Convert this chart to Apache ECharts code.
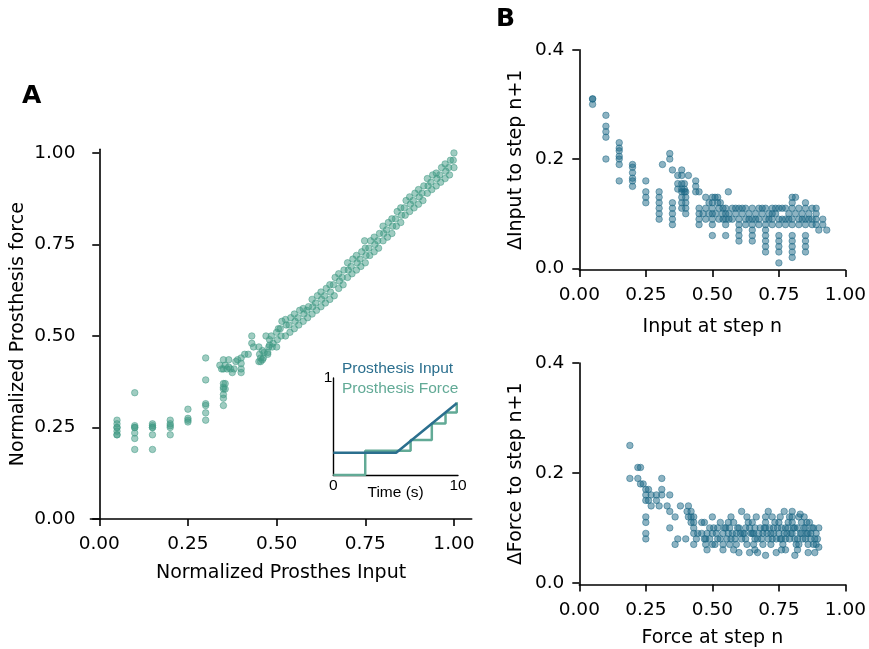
<!DOCTYPE html>
<html><head><meta charset="utf-8">
<script src="https://cdn.jsdelivr.net/npm/echarts@6/dist/echarts.min.js"></script>
<style>html,body{margin:0;padding:0;background:#fff}#c{width:869px;height:649px}</style>
</head><body><div id="c"></div>
<script>
// ---------- Panel A: normalized input vs force ----------
const inputForceA = [
[0.05,0.27],[0.05,0.26],[0.05,0.25],[0.05,0.25],[0.05,0.24],[0.05,0.23],[0.05,0.23],
[0.10,0.345],[0.10,0.255],[0.10,0.25],[0.10,0.25],[0.10,0.235],[0.10,0.22],[0.10,0.19],
[0.15,0.26],[0.15,0.255],[0.15,0.25],[0.15,0.25],[0.15,0.23],[0.15,0.19],
[0.20,0.27],[0.20,0.26],[0.20,0.255],[0.20,0.25],[0.20,0.23],
[0.25,0.30],[0.25,0.275],[0.25,0.27],[0.25,0.265],
[0.30,0.44],[0.30,0.38],[0.30,0.315],[0.30,0.31],[0.30,0.29],[0.30,0.27],
[0.35,0.37],[0.35,0.36],[0.35,0.355],[0.35,0.34],[0.35,0.33],[0.35,0.31],[0.355,0.37],[0.355,0.355],
[0.34,0.42],[0.345,0.41],[0.35,0.41],[0.355,0.42],[0.36,0.41],[0.365,0.415],[0.37,0.41],[0.375,0.40],[0.38,0.41],[0.35,0.435],[0.365,0.435],[0.385,0.43],[0.39,0.435],
[0.40,0.44],[0.40,0.425],[0.40,0.41],[0.40,0.40],[0.41,0.45],[0.42,0.45],
[0.43,0.50],[0.43,0.48],[0.435,0.47],[0.45,0.47],[0.455,0.44],[0.455,0.43],[0.46,0.435],[0.47,0.50],[0.475,0.455],[0.48,0.475],
[0.45,0.43],[0.452,0.45],[0.46,0.46],[0.4625,0.44],[0.465,0.455],
[0.475,0.45],[0.478,0.47],[0.48,0.49],[0.4875,0.47],[0.49,0.48],[0.485,0.50],
[0.50,0.47],[0.502,0.49],[0.50,0.51],[0.505,0.52],[0.5125,0.50],[0.51,0.52],[0.515,0.54],
[0.525,0.50],[0.527,0.53],[0.525,0.545],[0.5375,0.51],[0.535,0.53],[0.54,0.55],
[0.55,0.52],[0.552,0.54],[0.55,0.56],[0.5625,0.53],[0.56,0.55],[0.565,0.57],
[0.575,0.54],[0.577,0.56],[0.575,0.575],[0.5875,0.55],[0.585,0.57],[0.59,0.58],
[0.60,0.56],[0.602,0.58],[0.60,0.60],[0.6125,0.57],[0.61,0.59],[0.615,0.61],
[0.625,0.58],[0.627,0.60],[0.625,0.62],[0.6375,0.59],[0.635,0.61],[0.64,0.63],
[0.65,0.60],[0.652,0.62],[0.65,0.64],[0.6625,0.61],[0.66,0.64],[0.665,0.66],
[0.675,0.63],[0.677,0.65],[0.675,0.67],[0.6875,0.64],[0.685,0.66],[0.69,0.68],
[0.70,0.66],[0.702,0.68],[0.70,0.70],[0.7125,0.67],[0.71,0.69],[0.715,0.71],
[0.725,0.68],[0.727,0.70],[0.725,0.72],[0.7375,0.69],[0.735,0.71],[0.74,0.73],
[0.75,0.70],[0.752,0.72],[0.75,0.74],[0.748,0.76],[0.7625,0.72],[0.76,0.74],[0.765,0.76],
[0.775,0.73],[0.777,0.75],[0.775,0.77],[0.7875,0.74],[0.785,0.76],[0.79,0.78],
[0.80,0.76],[0.802,0.78],[0.80,0.80],[0.8125,0.77],[0.81,0.79],[0.815,0.81],
[0.825,0.78],[0.827,0.80],[0.825,0.82],[0.8375,0.80],[0.835,0.82],[0.84,0.84],
[0.85,0.81],[0.852,0.83],[0.85,0.85],[0.8625,0.83],[0.86,0.85],[0.865,0.87],
[0.875,0.84],[0.877,0.86],[0.875,0.88],[0.8875,0.85],[0.885,0.87],[0.89,0.89],
[0.90,0.86],[0.902,0.88],[0.90,0.90],[0.9125,0.87],[0.91,0.89],[0.915,0.91],
[0.925,0.89],[0.927,0.91],[0.925,0.93],[0.9375,0.90],[0.935,0.92],[0.94,0.94],
[0.95,0.91],[0.952,0.93],[0.95,0.945],[0.9625,0.92],[0.96,0.94],[0.965,0.96],
[0.975,0.93],[0.977,0.95],[0.975,0.97],[0.9875,0.94],[0.985,0.96],[0.99,0.98],
[1.0,0.96],[0.998,0.98],[1.0,1.0]
];

// ---------- Panel B (top): input at step n vs change ----------
const stepInput = [
[0.05,0.31],[0.05,0.31],[0.05,0.30],
[0.10,0.28],[0.10,0.26],[0.10,0.25],[0.10,0.24],[0.10,0.20],
[0.15,0.23],[0.15,0.22],[0.15,0.215],[0.15,0.205],[0.15,0.20],[0.15,0.19],[0.15,0.16],
[0.20,0.19],[0.20,0.185],[0.20,0.175],[0.20,0.165],[0.20,0.16],[0.20,0.15],
[0.25,0.16],[0.25,0.14],[0.25,0.13],[0.25,0.12],
[0.30,0.14],[0.30,0.13],[0.30,0.12],[0.30,0.11],[0.30,0.10],[0.30,0.09],
[0.3125,0.19],[0.34,0.21],[0.34,0.20],
[0.35,0.18],[0.35,0.12],[0.35,0.11],[0.35,0.10],[0.35,0.09],[0.35,0.08],
[0.37,0.17],[0.37,0.155],[0.37,0.145],
[0.385,0.18],[0.385,0.17],[0.385,0.155],[0.385,0.145],[0.385,0.14],[0.385,0.13],[0.385,0.12],[0.385,0.11],
[0.395,0.155],[0.395,0.145],[0.395,0.14],
[0.40,0.14],[0.40,0.13],[0.40,0.12],[0.40,0.11],[0.40,0.10],
[0.41,0.17],
[0.4375,0.16],[0.4375,0.15],[0.4375,0.14],
[0.45,0.14],[0.45,0.11],[0.45,0.10],[0.45,0.09],[0.45,0.08],
[0.465,0.10],[0.475,0.11],[0.475,0.09],[0.4875,0.10],[0.475,0.13],[0.4875,0.12],
[0.50,0.13],[0.50,0.12],[0.50,0.11],[0.50,0.10],[0.50,0.09],[0.50,0.08],[0.50,0.06],
[0.51,0.13],[0.52,0.13],[0.52,0.12],[0.525,0.11],[0.525,0.09],[0.53,0.12],[0.54,0.11],[0.54,0.09],[0.5125,0.10],[0.5375,0.10],
[0.55,0.11],[0.55,0.10],[0.55,0.09],[0.55,0.08],[0.55,0.06],[0.56,0.14],
[0.5625,0.10],[0.575,0.11],[0.575,0.09],[0.5875,0.10],[0.5875,0.11],[0.5625,0.09],
[0.60,0.11],[0.60,0.09],[0.60,0.08],[0.60,0.07],[0.60,0.06],[0.60,0.05],
[0.6125,0.10],[0.625,0.11],[0.625,0.09],[0.625,0.08],[0.6375,0.10],[0.6125,0.11],[0.6375,0.09],
[0.65,0.11],[0.65,0.09],[0.65,0.08],[0.65,0.07],[0.65,0.06],[0.65,0.05],
[0.6625,0.10],[0.675,0.11],[0.675,0.09],[0.675,0.08],[0.6875,0.10],[0.6625,0.09],[0.6875,0.11],
[0.70,0.11],[0.70,0.09],[0.70,0.08],[0.70,0.07],[0.70,0.06],[0.70,0.05],[0.70,0.04],[0.70,0.03],
[0.7125,0.10],[0.725,0.11],[0.725,0.10],[0.725,0.09],[0.725,0.08],[0.7375,0.10],[0.7125,0.09],[0.7375,0.11],
[0.75,0.11],[0.75,0.09],[0.75,0.08],[0.75,0.06],[0.75,0.05],[0.75,0.04],[0.75,0.03],[0.75,0.01],
[0.7625,0.09],[0.775,0.11],[0.775,0.09],[0.775,0.08],[0.7875,0.10],[0.7625,0.11],[0.7875,0.09],
[0.80,0.13],[0.80,0.12],[0.80,0.11],[0.80,0.09],[0.80,0.08],[0.80,0.06],[0.80,0.05],[0.80,0.04],[0.80,0.03],[0.80,0.02],
[0.8125,0.13],[0.825,0.11],[0.825,0.09],[0.825,0.08],[0.8375,0.10],[0.8125,0.10],[0.8375,0.09],
[0.85,0.12],[0.85,0.11],[0.85,0.09],[0.85,0.08],[0.85,0.06],[0.85,0.05],[0.85,0.04],[0.85,0.03],
[0.8625,0.10],[0.875,0.11],[0.875,0.09],[0.875,0.08],[0.8625,0.09],
[0.89,0.11],[0.89,0.10],[0.89,0.09],[0.89,0.08],
[0.90,0.07],[0.915,0.09],[0.915,0.08],[0.93,0.07]
];

// ---------- Panel B (bottom): force at step n vs change ----------
const stepForce = [
[0.19,0.25],[0.22,0.21],[0.23,0.21],[0.19,0.19],[0.22,0.19],
[0.23,0.18],[0.24,0.18],[0.25,0.17],[0.26,0.17],[0.25,0.16],[0.27,0.16],[0.25,0.15],[0.26,0.15],[0.27,0.14],
[0.31,0.19],[0.31,0.17],[0.29,0.16],[0.31,0.16],[0.29,0.15],[0.30,0.14],[0.33,0.14],[0.34,0.16],[0.34,0.13],[0.36,0.12],[0.34,0.10],
[0.25,0.12],[0.25,0.11],[0.25,0.09],[0.25,0.08],
[0.36,0.07],[0.37,0.08],[0.38,0.14],[0.40,0.08],
[0.405,0.13],[0.41,0.14],[0.42,0.12],[0.43,0.12],[0.42,0.13],[0.41,0.12],[0.42,0.11],[0.43,0.11],
[0.43,0.10],[0.43,0.09],[0.43,0.07],[0.445,0.09],[0.44,0.08],
[0.47,0.11],[0.475,0.08],[0.475,0.07],[0.46,0.09],[0.49,0.10],
[0.50,0.12],[0.50,0.09],[0.51,0.07],[0.52,0.10],[0.52,0.08],[0.53,0.11],
[0.54,0.09],[0.54,0.07],[0.54,0.06],[0.55,0.10],[0.555,0.08],
[0.565,0.10],[0.565,0.07],[0.57,0.12],[0.575,0.09],[0.58,0.11],[0.59,0.09],[0.59,0.07],[0.585,0.08],
[0.61,0.13],[0.60,0.055],[0.60,0.10],[0.61,0.08],[0.615,0.09],[0.625,0.10],[0.625,0.08],[0.63,0.07],[0.635,0.11],
[0.64,0.055],[0.645,0.09],[0.65,0.11],[0.65,0.09],[0.655,0.07],[0.66,0.10],[0.66,0.08],[0.665,0.12],[0.67,0.055],[0.675,0.09],[0.68,0.10],[0.685,0.08],
[0.69,0.07],[0.70,0.05],[0.70,0.10],[0.70,0.11],[0.705,0.09],[0.71,0.08],[0.715,0.10],[0.72,0.07],
[0.725,0.12],[0.725,0.08],[0.73,0.09],[0.735,0.11],[0.74,0.055],[0.745,0.10],[0.75,0.11],[0.75,0.09],[0.755,0.08],[0.76,0.10],[0.765,0.07],
[0.77,0.13],[0.775,0.10],[0.775,0.08],[0.775,0.06],[0.78,0.09],[0.785,0.11],[0.79,0.12],[0.79,0.08],
[0.80,0.13],[0.80,0.11],[0.80,0.09],[0.805,0.10],[0.81,0.05],[0.81,0.08],[0.815,0.07],[0.82,0.10],
[0.825,0.12],[0.825,0.07],[0.83,0.125],[0.83,0.09],[0.835,0.11],[0.84,0.08],[0.845,0.10],
[0.85,0.10],[0.85,0.08],[0.855,0.09],[0.86,0.07],[0.86,0.055],[0.865,0.11],[0.87,0.09],[0.875,0.10],
[0.88,0.10],[0.885,0.08],[0.885,0.055],[0.89,0.09],[0.89,0.07],[0.90,0.10],[0.90,0.065],
[0.46,0.11],[0.48,0.09],[0.49,0.08],[0.505,0.10],[0.515,0.09],[0.53,0.08],[0.545,0.10],[0.56,0.09],[0.57,0.08],
[0.595,0.10],[0.605,0.09],[0.62,0.09],[0.64,0.10],[0.655,0.09],[0.67,0.08],[0.69,0.09],[0.695,0.10],[0.72,0.09],
[0.73,0.10],[0.74,0.08],[0.76,0.08],[0.77,0.09],[0.785,0.10],[0.795,0.09],[0.81,0.10],[0.82,0.08],[0.835,0.09],
[0.845,0.12],[0.855,0.11],[0.86,0.09],[0.87,0.08],[0.88,0.07],[0.895,0.08],[0.47,0.08],[0.50,0.07],[0.56,0.11],
[0.63,0.12],[0.70,0.12],[0.71,0.13],[0.755,0.12],[0.80,0.12],[0.76,0.06],[0.82,0.06],[0.66,0.06],[0.58,0.06],[0.48,0.06]
];

// ---------- Inset: time traces ----------
const insetInput = [[0,0.23],[5.04,0.23],[9.9,0.74]];
const insetForce = [[0,0],[2.56,0],[2.56,0.25],[6.2,0.25],[6.2,0.36],[7.9,0.36],[7.9,0.53],[9.0,0.53],[9.0,0.645],[9.9,0.645],[9.9,0.75]];

// tick label values
const ticksA = [0,0.25,0.5,0.75,1];
const ticksBx = [0,0.25,0.5,0.75,1];
const ticksBy = [0,0.2,0.4];

const FONT = 'DejaVu Sans';
const INSET_FONT = 'Liberation Sans';
const GREEN = '#3f9a84';
const BLUE = '#1b6786';

function mainAxis(o) {
  const base = {
    type: 'value',
    splitLine: {show: false},
    axisLine: {show: true, lineStyle: {color: '#000', width: 1.6}},
    axisTick: {show: true, length: 7, lineStyle: {color: '#000', width: 1.6}},
    axisLabel: {color: '#000', fontFamily: FONT, fontSize: 18.5},
    nameLocation: 'middle',
    nameTextStyle: {color: '#000', fontFamily: FONT, fontSize: 19}
  };
  const r = Object.assign({}, base, o);
  r.axisLabel = Object.assign({}, base.axisLabel, o.axisLabel || {});
  r.axisTick = Object.assign({}, base.axisTick, o.axisTick || {});
  r.axisLine = Object.assign({}, base.axisLine, o.axisLine || {});
  return r;
}

const option = {
  animation: false,
  backgroundColor: '#fff',
  title: [
    {text: 'A', left: 22, top: 84, padding: 0, textStyle: {fontFamily: FONT, fontWeight: 'bold', fontSize: 25, color: '#000'}},
    {text: 'B', left: 496, top: 7, padding: 0, textStyle: {fontFamily: FONT, fontWeight: 'bold', fontSize: 25, color: '#000'}}
  ],
  legend: {
    orient: 'vertical', left: 337, top: 361, padding: 0, itemGap: 3.5,
    itemWidth: 0, itemHeight: 0, selectedMode: false,
    textStyle: {fontFamily: INSET_FONT, fontSize: 15.5},
    data: [
      {name: 'Prosthesis Input', icon: 'rect', textStyle: {color: '#2b6f8e'}},
      {name: 'Prosthesis Force', icon: 'rect', textStyle: {color: '#62aa96'}}
    ]
  },
  grid: [
    {left: 90.4, top: 149.3, width: 381.3, height: 369.7},
    {left: 579.3, top: 49.7, width: 267.4, height: 220.3},
    {left: 579.3, top: 363, width: 267.4, height: 221.5},
    {left: 333.3, top: 378, width: 124.7, height: 97}
  ],
  xAxis: [
    mainAxis({gridIndex: 0, min: -0.025, max: 1.05, name: 'Normalized Prosthes Input', nameGap: 45,
      axisLabel: {margin: 16, customValues: ticksA, formatter: v => v.toFixed(2)}, axisTick: {customValues: ticksA}}),
    mainAxis({gridIndex: 1, min: 0, max: 1, name: 'Input at step n', nameGap: 48,
      axisLine: {onZero: false},
      axisLabel: {margin: 16, customValues: ticksBx, formatter: v => v.toFixed(2)}, axisTick: {customValues: ticksBx}}),
    mainAxis({gridIndex: 2, min: 0, max: 1, name: 'Force at step n', nameGap: 44,
      axisLine: {onZero: false},
      axisLabel: {margin: 16, customValues: ticksBx, formatter: v => v.toFixed(2)}, axisTick: {customValues: ticksBx}}),
    {type: 'value', gridIndex: 3, min: 0, max: 10, splitLine: {show: false},
      axisLine: {show: true, lineStyle: {color: '#000', width: 1.4}}, axisTick: {show: false},
      axisLabel: {color: '#000', fontFamily: INSET_FONT, fontSize: 15.5, margin: 3, customValues: [0, 10]},
      name: 'Time (s)', nameLocation: 'middle', nameGap: 10, nameMoveOverlap: false,
      nameTextStyle: {color: '#000', fontFamily: INSET_FONT, fontSize: 15.5}}
  ],
  yAxis: [
    mainAxis({gridIndex: 0, min: 0, max: 1.01, name: 'Normalized Prosthesis force', nameGap: 63,
      axisLabel: {margin: 15, customValues: ticksA, formatter: v => v.toFixed(2)}, axisTick: {customValues: ticksA}}),
    mainAxis({gridIndex: 1, min: -0.003, max: 0.4, name: '\u0394Input to step n+1', nameGap: 54,
      axisLabel: {margin: 15, customValues: ticksBy, formatter: v => v.toFixed(1)}, axisTick: {customValues: ticksBy}}),
    mainAxis({gridIndex: 2, min: -0.003, max: 0.4, name: '\u0394Force to step n+1', nameGap: 54,
      axisLabel: {margin: 15, customValues: ticksBy, formatter: v => v.toFixed(1)}, axisTick: {customValues: ticksBy}}),
    {type: 'value', gridIndex: 3, min: 0, max: 1, splitLine: {show: false},
      axisLine: {show: true, lineStyle: {color: '#000', width: 1.4}}, axisTick: {show: false},
      axisLabel: {color: '#000', fontFamily: INSET_FONT, fontSize: 15.5, margin: 1, customValues: [1]}}
  ],
  series: [
    {type: 'scatter', name: 'A', xAxisIndex: 0, yAxisIndex: 0, data: inputForceA, symbolSize: 6.5,
      itemStyle: {color: GREEN, opacity: 0.5, borderColor: GREEN, borderWidth: 1}},
    {type: 'scatter', name: 'B1', xAxisIndex: 1, yAxisIndex: 1, data: stepInput, symbolSize: 6.5,
      itemStyle: {color: BLUE, opacity: 0.5, borderColor: BLUE, borderWidth: 1}},
    {type: 'scatter', name: 'B2', xAxisIndex: 2, yAxisIndex: 2, data: stepForce, symbolSize: 6.5,
      itemStyle: {color: BLUE, opacity: 0.5, borderColor: BLUE, borderWidth: 1}},
    {type: 'line', name: 'Prosthesis Force', xAxisIndex: 3, yAxisIndex: 3, data: insetForce, showSymbol: false, z: 2,
      lineStyle: {color: '#62aa96', width: 2.5}, itemStyle: {color: '#62aa96'}},
    {type: 'line', name: 'Prosthesis Input', xAxisIndex: 3, yAxisIndex: 3, data: insetInput, showSymbol: false, z: 3,
      lineStyle: {color: '#2b6f8e', width: 2.5}, itemStyle: {color: '#2b6f8e'}}
  ]
};

const chart = echarts.init(document.getElementById('c'), null, {renderer: 'canvas'});
chart.setOption(option);
</script></body></html>
